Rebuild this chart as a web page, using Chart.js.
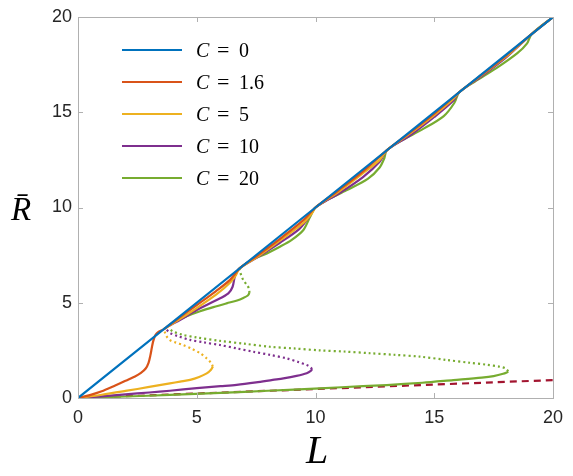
<!DOCTYPE html>
<html>
<head>
<meta charset="utf-8">
<script src="https://cdn.jsdelivr.net/npm/chart.js@4.4.1/dist/chart.umd.min.js"></script>
<style>
  html, body { margin: 0; padding: 0; background: #fff; }
</style>
</head>
<body>
<canvas id="chart" width="573" height="476"></canvas>
<script>
// axis ticks
const xTicks = [0, 5, 10, 15, 20];
const yTicks = [0, 5, 10, 15, 20];
const legendValues = ["0", "1.6", "5", "10", "20"];

// C = 0 : the diagonal
const c0 = [[0, 0], [20, 20]];

// C = 1.6 : single stable branch
const c16 = [[0, 0], [0.5, 0.15], [1, 0.35], [1.5, 0.62], [2, 0.9], [2.4, 1.13], [2.65, 1.32], [2.85, 1.55],
  [2.97, 1.85], [3.05, 2.25], [3.11, 2.65], [3.17, 3.0], [3.26, 3.3], [3.4, 3.48], [3.6, 3.6],
  [4.2, 4.15], [5, 4.88], [5.8, 5.6], [6.4, 6.2], [6.8, 6.8], [7.6, 7.52], [8.6, 8.45], [9.5, 9.35],
  [10, 10], [11, 10.93], [12, 11.9], [13, 13], [14, 13.95], [15, 14.92], [16.05, 16.05],
  [17, 16.97], [18, 17.95], [19.1, 19.1], [20, 20]];

// C = 5
const c5Low = [[0, 0], [1, 0.17], [2, 0.37], [3, 0.58], [3.87, 0.77], [4.3, 0.86], [4.72, 0.95],
  [5.1, 1.1], [5.42, 1.29], [5.6, 1.48], [5.68, 1.65]];
const c5Unstable = [[5.68, 1.65], [5.6, 1.85], [5.4, 2.1], [5.14, 2.35], [4.8, 2.58], [4.43, 2.78],
  [4.1, 2.92], [3.87, 3.04], [3.72, 3.25], [3.66, 3.45], [3.62, 3.58]];
const c5High = [[3.62, 3.62], [4.3, 4.15], [5, 4.72], [5.84, 5.45], [6.4, 6.05], [6.65, 6.45], [6.8, 6.8],
  [7.6, 7.45], [8.6, 8.35], [9.5, 9.2], [9.85, 9.7], [10, 10], [11, 10.85], [12, 11.8], [12.7, 12.5],
  [13, 13], [14, 13.9], [15, 14.85], [15.8, 15.7], [16.05, 16.05], [17, 16.95], [18, 17.9],
  [19.1, 19.1], [20, 20]];

// C = 10
const c10Low = [[0, 0], [1, 0.09], [2, 0.19], [3, 0.29], [3.87, 0.38], [5, 0.52], [6, 0.62], [6.68, 0.69],
  [7.5, 0.82], [8.2, 0.95], [8.65, 1.03], [9.2, 1.16], [9.63, 1.3], [9.8, 1.42], [9.86, 1.52]];
const c10Unstable = [[9.86, 1.52], [9.75, 1.65], [9.63, 1.73], [9.3, 1.88], [8.79, 2.08], [8.1, 2.26],
  [7.38, 2.43], [6.7, 2.6], [5.98, 2.78], [5.3, 2.92], [4.72, 3.05], [4.2, 3.25], [3.87, 3.42], [3.72, 3.6]];
const c10High = [[3.72, 3.72], [4.29, 4.09], [5.0, 4.62], [5.84, 5.14], [6.33, 5.49], [6.51, 5.84],
  [6.61, 6.4], [6.8, 6.8], [7.5, 7.35], [8.5, 8.15], [9.3, 8.85], [9.7, 9.45], [10, 10], [11, 10.75],
  [12, 11.6], [12.7, 12.4], [13, 13], [14, 13.8], [15, 14.75], [15.8, 15.6], [16.05, 16.05],
  [17, 16.9], [18, 17.85], [19.1, 19.1], [20, 20]];

// C = 20
const c20Low = [[0, 0], [2, 0.08], [3.87, 0.16], [6, 0.27], [8, 0.38], [10.19, 0.51], [12, 0.62], [13, 0.68],
  [14.5, 0.8], [15.8, 0.94], [17, 1.07], [17.5, 1.15], [17.9, 1.27], [18.12, 1.38]];
const c20Unstable = [[18.12, 1.4], [18.0, 1.55], [17.77, 1.64], [17.2, 1.75], [16.5, 1.85], [15.5, 2.0],
  [14.4, 2.17], [13.3, 2.27], [12.3, 2.35], [11.2, 2.44], [10.19, 2.5], [9.1, 2.6], [8.08, 2.69],
  [7.0, 2.85], [5.98, 3.0], [5.0, 3.18], [4.4, 3.32], [4.0, 3.5], [3.8, 3.68]];
const c20Mid = [[3.8, 3.8], [4.08, 4.0], [4.6, 4.3], [5.14, 4.55], [5.7, 4.77], [6.26, 4.97], [6.7, 5.12],
  [6.96, 5.25], [7.15, 5.38], [7.22, 5.52]];
const c20MidUnstable = [[7.22, 5.52], [7.2, 5.75], [7.1, 5.95], [6.96, 6.19], [6.87, 6.45], [6.82, 6.65], [6.8, 6.8]];
const c20High = [[6.8, 6.8], [7.3, 7.25], [7.8, 7.5], [8.5, 7.94], [9.0, 8.3], [9.49, 8.82], [9.77, 9.5],
  [10, 10], [10.5, 10.4], [11.3, 10.9], [12.2, 11.5], [12.7, 12.1], [12.9, 12.6], [13, 13], [13.6, 13.5],
  [14.5, 14.1], [15.4, 14.8], [15.85, 15.5], [16.05, 16.05], [16.7, 16.6], [17.6, 17.3], [18.5, 18.1],
  [18.9, 18.6], [19.1, 19.1], [20, 20]];

// small-R asymptote (dashed)
const asymptote = [[0, 0], [20, 0.94]];

const colors = ["#0072BD", "#D95319", "#EDB120", "#7E2F8E", "#77AC30"];
const red = "#A2142F";

function pts(a) { return a.map(p => ({ x: p[0], y: p[1] })); }
function line(data, color, dash) {
  return {
    data: pts(data),
    borderColor: color,
    borderWidth: 2.2,
    borderDash: dash || [],
    pointRadius: 0,
    showLine: true,
    tension: 0.3,
    fill: false
  };
}
const DOT = [2, 3];

const datasets = [
  line(c0, colors[0]),
  line(c16, colors[1]),
  line(c5Low, colors[2]), line(c5Unstable, colors[2], DOT), line(c5High, colors[2]),
  line(c10Low, colors[3]), line(c10Unstable, colors[3], DOT), line(c10High, colors[3]),
  line(c20Low, colors[4]), line(c20Unstable, colors[4], DOT), line(c20Mid, colors[4]),
  line(c20MidUnstable, colors[4], DOT), line(c20High, colors[4]),
  line(asymptote, red, [7, 5])
];

// white background, box with inward ticks
const frame = {
  id: "frame",
  beforeDraw(chart) {
    const ctx = chart.ctx;
    ctx.save();
    ctx.fillStyle = "#fff";
    ctx.fillRect(0, 0, chart.width, chart.height);
    ctx.restore();
  },
  afterDatasetsDraw(chart) {
    const { ctx, chartArea: a, scales } = chart;
    ctx.save();
    ctx.strokeStyle = "#b0b0b0";
    ctx.lineWidth = 1;
    ctx.strokeRect(a.left + 0.5, a.top + 0.5, a.right - a.left, a.bottom - a.top);
    ctx.beginPath();
    xTicks.forEach(v => {
      const x = Math.round(scales.x.getPixelForValue(v)) + 0.5;
      ctx.moveTo(x, a.bottom); ctx.lineTo(x, a.bottom - 5);
      ctx.moveTo(x, a.top); ctx.lineTo(x, a.top + 5);
    });
    yTicks.forEach(v => {
      const y = Math.round(scales.y.getPixelForValue(v)) + 0.5;
      ctx.moveTo(a.left, y); ctx.lineTo(a.left + 5, y);
      ctx.moveTo(a.right, y); ctx.lineTo(a.right - 5, y);
    });
    ctx.stroke();
    ctx.restore();
  }
};

// legend and axis titles
const labels = {
  id: "labels",
  afterDraw(chart) {
    const ctx = chart.ctx;
    ctx.save();
    legendValues.forEach((v, i) => {
      const y = 50 + i * 32;
      ctx.strokeStyle = colors[i];
      ctx.lineWidth = 2.2;
      ctx.beginPath();
      ctx.moveTo(122, y); ctx.lineTo(182, y);
      ctx.stroke();
      ctx.fillStyle = "#000";
      ctx.textBaseline = "alphabetic";
      ctx.textAlign = "left";
      ctx.font = "italic 20px 'Liberation Serif'";
      ctx.fillText("C", 196, y + 7);
      ctx.font = "22px 'Liberation Serif'";
      ctx.fillText("=", 217, y + 7);
      ctx.font = "20px 'Liberation Serif'";
      ctx.fillText(v, 239, y + 7);
    });
    ctx.font = "italic 40px 'Liberation Serif'";
    ctx.textAlign = "center";
    ctx.fillText("L", 317, 463);
    ctx.font = "italic 33px 'Liberation Serif'";
    ctx.textAlign = "left";
    ctx.fillText("R\u0304", 11, 220);
    ctx.restore();
  }
};

const tickFont = { family: "'Liberation Sans', Arial, sans-serif", size: 18 };

new Chart(document.getElementById("chart"), {
  type: "scatter",
  data: { datasets: datasets },
  options: {
    responsive: false,
    animation: false,
    layout: { padding: { top: 17, right: 20, left: 0, bottom: 0 } },
    plugins: { legend: { display: false }, tooltip: { enabled: false } },
    scales: {
      x: {
        type: "linear", min: 0, max: 20,
        afterBuildTicks: s => { s.ticks = xTicks.map(v => ({ value: v })); },
        afterFit: s => { s.height = 78; },
        ticks: { font: tickFont, color: "#262626", padding: 9, maxRotation: 0 },
        grid: { display: false, drawTicks: false },
        border: { display: false }
      },
      y: {
        type: "linear", min: 0, max: 20,
        afterBuildTicks: s => { s.ticks = yTicks.map(v => ({ value: v })); },
        afterFit: s => { s.width = 78; },
        ticks: { font: tickFont, color: "#262626", padding: 6 },
        grid: { display: false, drawTicks: false },
        border: { display: false }
      }
    }
  },
  plugins: [frame, labels]
});
</script>
</body>
</html>
